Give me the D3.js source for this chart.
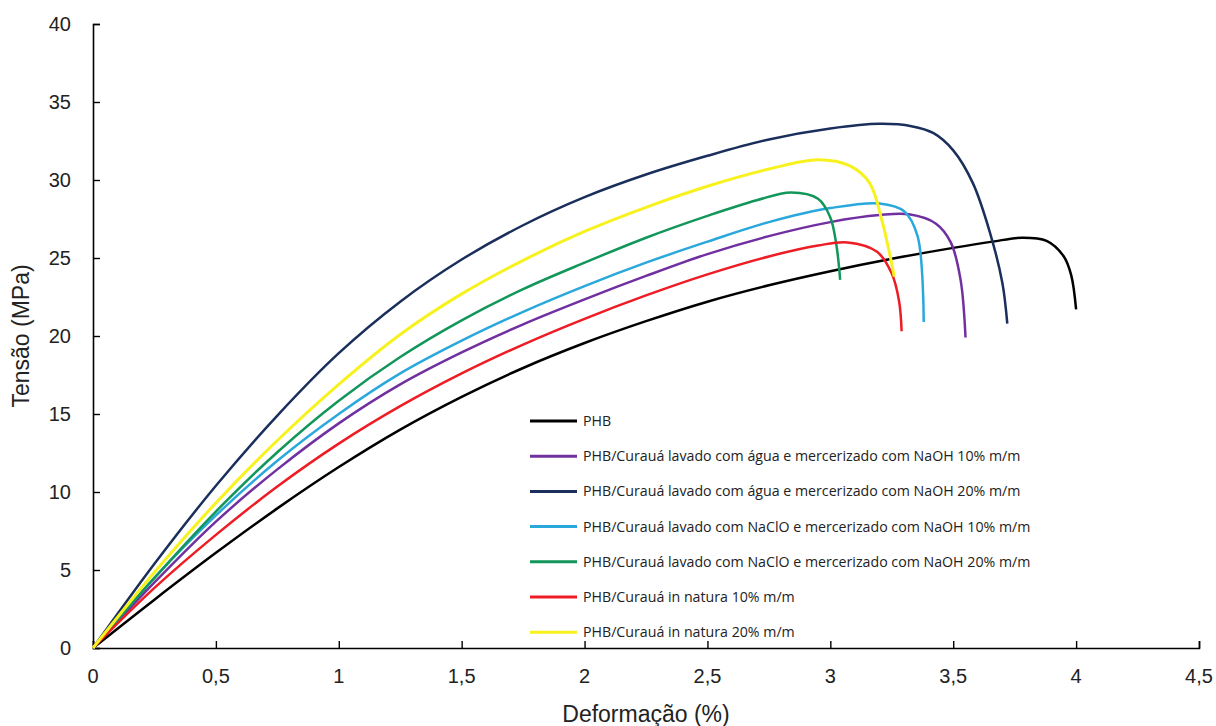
<!DOCTYPE html>
<html>
<head>
<meta charset="utf-8">
<script src="https://cdn.jsdelivr.net/npm/d3@7"></script>
<style>
  body { margin: 0; background: #fff; }
  svg text { fill: #222; }
</style>
</head>
<body>
<div id="viz"></div>
<script>
// strain (%) / stress (MPa) pairs
const phbX = [0, 0.25, 0.5, 0.75, 1.0, 1.25, 1.5, 1.75, 2.0, 2.25, 2.5, 2.75, 3.0, 3.25, 3.5, 3.66, 3.78, 3.88, 3.95, 3.98, 4.0];
const phbY = [0, 3.1, 6.1, 8.95, 11.6, 14.0, 16.1, 17.95, 19.55, 20.95, 22.2, 23.25, 24.15, 24.95, 25.65, 26.05, 26.3, 26.1, 25.1, 23.9, 21.7];

const agua10X = [0, 0.25, 0.5, 0.75, 1.0, 1.25, 1.5, 1.75, 2.0, 2.25, 2.5, 2.75, 3.0, 3.2, 3.32, 3.43, 3.49, 3.53, 3.55];
const agua10Y = [0, 4.2, 8.1, 11.45, 14.4, 16.9, 18.95, 20.75, 22.35, 23.85, 25.25, 26.4, 27.3, 27.75, 27.8, 27.2, 26.0, 23.6, 19.9];

const agua20X = [0, 0.25, 0.5, 0.75, 1.0, 1.25, 1.5, 1.75, 2.0, 2.25, 2.5, 2.75, 3.0, 3.2, 3.33, 3.42, 3.5, 3.58, 3.65, 3.70, 3.72];
const agua20Y = [0, 5.4, 10.4, 14.9, 18.9, 22.2, 24.9, 27.1, 28.9, 30.35, 31.55, 32.6, 33.3, 33.6, 33.45, 33.0, 31.9, 29.8, 26.6, 23.4, 20.8];

const naclo10X = [0, 0.25, 0.5, 0.75, 1.0, 1.25, 1.5, 1.75, 2.0, 2.25, 2.5, 2.75, 3.0, 3.2, 3.3, 3.355, 3.38];
const naclo10Y = [0, 4.5, 8.5, 12.0, 15.0, 17.6, 19.7, 21.55, 23.2, 24.7, 26.05, 27.3, 28.2, 28.5, 28.0, 26.4, 20.9];

const naclo20X = [0, 0.25, 0.5, 0.75, 1.0, 1.25, 1.5, 1.75, 2.0, 2.25, 2.5, 2.7, 2.84, 2.95, 3.0, 3.025, 3.04];
const naclo20Y = [0, 4.5, 8.75, 12.55, 15.85, 18.65, 21.0, 23.0, 24.7, 26.3, 27.7, 28.7, 29.2, 28.8, 27.6, 25.8, 23.6];

const nat10X = [0, 0.25, 0.5, 0.75, 1.0, 1.25, 1.5, 1.75, 2.0, 2.25, 2.5, 2.75, 2.95, 3.07, 3.19, 3.25, 3.28, 3.29];
const nat10Y = [0, 3.85, 7.25, 10.35, 13.1, 15.5, 17.6, 19.45, 21.1, 22.6, 23.95, 25.1, 25.8, 26.0, 25.4, 24.0, 22.2, 20.3];

const nat20X = [0, 0.25, 0.5, 0.75, 1.0, 1.25, 1.5, 1.75, 2.0, 2.25, 2.5, 2.75, 2.95, 3.08, 3.16, 3.21, 3.245, 3.26];
const nat20Y = [0, 4.85, 9.3, 13.3, 16.9, 20.1, 22.7, 24.85, 26.7, 28.25, 29.6, 30.7, 31.3, 30.9, 29.8, 27.4, 25.0, 23.8];

const seriesNames = [
  "PHB",
  "PHB/Curauá lavado com água e mercerizado com NaOH 10% m/m",
  "PHB/Curauá lavado com água e mercerizado com NaOH 20% m/m",
  "PHB/Curauá lavado com NaClO e mercerizado com NaOH 10% m/m",
  "PHB/Curauá lavado com NaClO e mercerizado com NaOH 20% m/m",
  "PHB/Curauá in natura 10% m/m",
  "PHB/Curauá in natura 20% m/m"
];
const seriesX = [phbX, agua10X, agua20X, naclo10X, naclo20X, nat10X, nat20X];
const seriesY = [phbY, agua10Y, agua20Y, naclo10Y, naclo20Y, nat10Y, nat20Y];
const colors = ["#000000", "#7030a0", "#1b2f5c", "#2aa8dc", "#12965a", "#ee1c24", "#f7f21e"];

const xTicks = [0, 0.5, 1, 1.5, 2, 2.5, 3, 3.5, 4, 4.5];
const yTicks = [0, 5, 10, 15, 20, 25, 30, 35, 40];

const width = 1216, height = 726;
const margin = { top: 24, right: 17, bottom: 78, left: 93 };

const svg = d3.select("#viz")
  .append("svg")
  .attr("width", width)
  .attr("height", height);

const x = d3.scaleLinear().domain([0, 4.5]).range([margin.left, width - margin.right]);
const y = d3.scaleLinear().domain([0, 40]).range([height - margin.bottom, margin.top]);

const fmt = d => String(d).replace(".", ",");

// axes, ticks pointing inward
const xAxis = svg.append("g")
  .attr("transform", `translate(0,${height - margin.bottom})`)
  .call(d3.axisTop(x).tickValues(xTicks).tickSize(7).tickFormat(""));
const yAxis = svg.append("g")
  .attr("transform", `translate(${margin.left},0)`)
  .call(d3.axisRight(y).tickValues(yTicks).tickSize(7).tickFormat(""));
[xAxis, yAxis].forEach(g => {
  g.select(".domain").attr("stroke", "#000").attr("stroke-width", 1.6);
  g.selectAll(".tick line").attr("stroke", "#000").attr("stroke-width", 1.4);
});

svg.append("g").selectAll("text")
  .data(xTicks)
  .enter().append("text")
  .attr("x", d => x(d))
  .attr("y", height - margin.bottom + 35)
  .attr("text-anchor", "middle")
  .attr("font-family", "Liberation Sans, Arial, sans-serif")
  .attr("font-size", 20)
  .text(fmt);

svg.append("g").selectAll("text")
  .data(yTicks)
  .enter().append("text")
  .attr("x", 71)
  .attr("y", d => y(d) + 7)
  .attr("text-anchor", "end")
  .attr("font-family", "Liberation Sans, Arial, sans-serif")
  .attr("font-size", 20)
  .text(fmt);

svg.append("text")
  .attr("x", (margin.left + width - margin.right) / 2)
  .attr("y", 722)
  .attr("text-anchor", "middle")
  .attr("font-family", "Liberation Sans, Arial, sans-serif")
  .attr("font-size", 23)
  .text("Deformação (%)");

svg.append("text")
  .attr("transform", `translate(29,${(margin.top + height - margin.bottom) / 2}) rotate(-90)`)
  .attr("text-anchor", "middle")
  .attr("font-family", "Liberation Sans, Arial, sans-serif")
  .attr("font-size", 23)
  .text("Tensão (MPa)");

// curves
const line = d3.line()
  .x(d => x(d[0]))
  .y(d => y(d[1]))
  .curve(d3.curveCatmullRom.alpha(0.5));

seriesNames.forEach((name, i) => {
  const pts = seriesX[i].map((v, j) => [v, seriesY[i][j]]);
  svg.append("path")
    .datum(pts)
    .attr("fill", "none")
    .attr("stroke", colors[i])
    .attr("stroke-width", i === 6 ? 3 : 2.5)
    .attr("d", line);
});

// legend
const legend = svg.append("g");
seriesNames.forEach((name, i) => {
  const ly = 421 + i * 35.2;
  legend.append("line")
    .attr("x1", 530).attr("x2", 577)
    .attr("y1", ly).attr("y2", ly)
    .attr("stroke", colors[i])
    .attr("stroke-width", 3);
  legend.append("text")
    .attr("x", 583)
    .attr("y", ly + 5)
    .attr("font-family", "Open Sans, sans-serif")
    .attr("font-size", 14.2)
    .text(name);
});
</script>
</body>
</html>
